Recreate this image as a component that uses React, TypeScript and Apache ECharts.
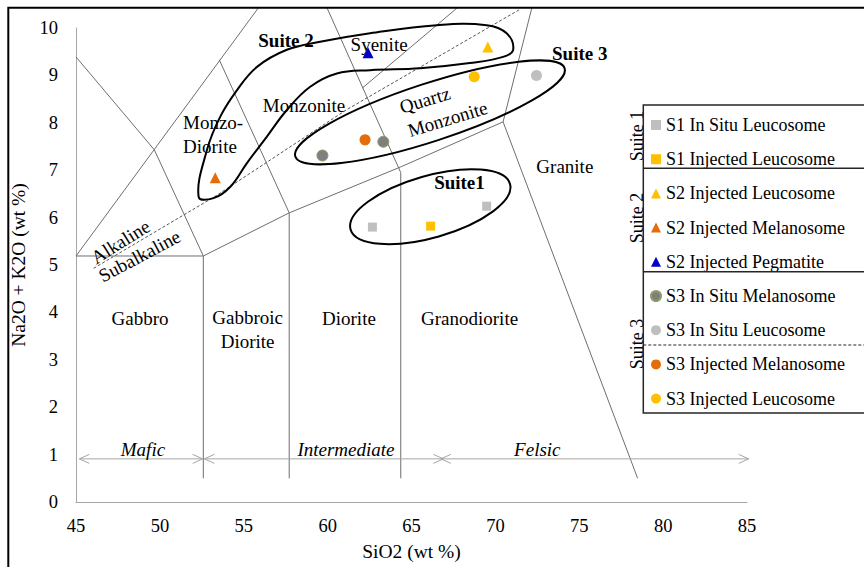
import React, { useEffect, useRef } from 'react';
import * as echarts from 'echarts';

const FONT = '"Liberation Serif", "Times New Roman", serif';

// ---- sample data (SiO2, Na2O+K2O) ----
const s1InSituLeucosome = [[62.67, 5.80], [69.48, 6.24]];
const s1InjectedLeucosome = [[66.14, 5.82]];
const s2InjectedLeucosome = [[69.55, 9.60]];
const s2InjectedMelanosome = [[53.30, 6.84]];
const s2InjectedPegmatite = [[62.41, 9.48]];
const s3InSituMelanosome = [[59.69, 7.31], [63.32, 7.60]];
const s3InSituLeucosome = [[72.45, 9.00]];
const s3InjectedMelanosome = [[62.23, 7.64]];
const s3InjectedLeucosome = [[68.74, 8.97]];

// ---- TAS field boundaries (data coordinates) ----
const fieldBoundaries = [
  [[45, 9.39], [49.67, 7.43], [52.59, 5.19]],
  [[45, 5.19], [55.86, 10.42]],
  [[53.54, 9.33], [57.71, 6.10], [57.71, 0.5]],
  [[45, 5.19], [52.59, 5.19], [52.59, 0.5]],
  [[52.59, 5.19], [57.71, 6.10], [64.36, 7.07], [70.46, 8.02]],
  [[59.97, 10.42], [64.36, 6.95], [64.36, 0.5]],
  [[67.71, 10.42], [62.06, 8.73]],
  [[72.17, 10.42], [70.46, 8.02], [78.48, 0.5]],
];
const alkalineDivide = [[46.05, 4.93], [53.3, 6.45], [61.1, 8.27], [71.4, 10.38]];

// ---- rock class ranges (arrows): from, to, level ----
const classRanges = [
  [45.2, 52.55, 0.91],
  [52.65, 66.9, 0.91],
  [66.75, 85.1, 0.91],
];

// ---- suite outlines ----
const suiteEllipses = [
  // centre x, centre y, major-axis end x, end y, minor/major ratio
  [66.10, 8.22, 74.13, 9.15, 0.204],
  [66.12, 6.23, 70.87, 6.71, 0.373],
];
const suite2Loop = [
  [52.31, 6.44], [52.81, 7.43], [53.60, 8.13], [54.60, 8.69], [55.79, 9.18],
  [57.57, 9.54], [59.55, 9.71], [62.53, 9.89], [66.50, 10.06], [69.48, 10.06],
  [70.67, 9.89], [71.06, 9.54], [70.46, 9.39], [68.48, 9.26], [65.51, 9.15],
  [62.53, 9.11], [60.55, 9.04], [58.96, 8.76], [57.57, 8.27], [56.38, 7.71],
  [55.19, 7.15], [54.20, 6.65], [53.20, 6.41],
];

// ---- text labels ----
const fieldLabels = [
  { text: 'Gabbro', at: [48.82, 3.88] },
  { text: 'Gabbroic\nDiorite', at: [55.23, 3.63] },
  { text: 'Diorite', at: [61.27, 3.88] },
  { text: 'Granodiorite', at: [68.46, 3.88] },
  { text: 'Granite', at: [74.14, 7.07] },
  { text: 'Monzo-\nDiorite', at: [51.38, 7.75], align: 'left' },
  { text: 'Monzonite', at: [58.59, 8.375] },
  { text: 'Syenite', at: [63.07, 9.66] },
  { text: 'Quartz', at: [65.80, 8.48], rotate: 17 },
  { text: 'Monzonite', at: [67.15, 8.08], rotate: 17 },
  { text: 'Alkaline', at: [47.65, 5.49], rotate: 32 },
  { text: 'Subalkaline', at: [48.78, 5.19], rotate: 28 },
  { text: 'Suite 2', at: [57.52, 9.74], bold: true },
  { text: 'Suite 3', at: [75.03, 9.47], bold: true },
  { text: 'Suite1', at: [67.86, 6.75], bold: true },
  { text: 'Mafic', at: [48.99, 1.10], italic: true },
  { text: 'Intermediate', at: [61.09, 1.10], italic: true },
  { text: 'Felsic', at: [72.5, 1.10], italic: true },
];

const sampleSeries = [
  { name: 'S1 In Situ Leucosome', data: s1InSituLeucosome, symbol: 'rect', size: 9, color: '#BFBFBF' },
  { name: 'S1 Injected Leucosome', data: s1InjectedLeucosome, symbol: 'rect', size: 9, color: '#FFC000' },
  { name: 'S2 Injected Leucosome', data: s2InjectedLeucosome, symbol: 'triangle', size: 11, color: '#FFC000' },
  { name: 'S2 Injected Melanosome', data: s2InjectedMelanosome, symbol: 'triangle', size: 11, color: '#E46C0A' },
  { name: 'S2 Injected Pegmatite', data: s2InjectedPegmatite, symbol: 'triangle', size: 11, color: '#0000C8' },
  { name: 'S3 In Situ Melanosome', data: s3InSituMelanosome, symbol: 'circle', size: 11, color: '#7F7F7F', border: '#8E9C6C' },
  { name: 'S3 In Situ Leucosome', data: s3InSituLeucosome, symbol: 'circle', size: 11, color: '#BFBFBF' },
  { name: 'S3 Injected Melanosome', data: s3InjectedMelanosome, symbol: 'circle', size: 11, color: '#E46C0A' },
  { name: 'S3 Injected Leucosome', data: s3InjectedLeucosome, symbol: 'circle', size: 11, color: '#FFC000' },
];

export default function App() {
  const ref = useRef<HTMLDivElement>(null);

  useEffect(() => {
    document.body.style.margin = '0';
    const chart = echarts.init(ref.current!, null, { renderer: 'svg' });

    const boundarySeries = fieldBoundaries.map((pts) => ({
      type: 'line',
      data: pts,
      symbol: 'none',
      showSymbol: false,
      clip: false,
      silent: true,
      z: 2,
      lineStyle: { color: '#6E6E6E', width: 1 },
    }));

    const option: any = {
      animation: false,
      grid: { left: 76, top: 28, right: 117, bottom: 65 },
      xAxis: {
        type: 'value',
        min: 45,
        max: 85,
        interval: 5,
        name: 'SiO2 (wt %)',
        nameLocation: 'middle',
        nameGap: 39,
        nameTextStyle: { fontFamily: FONT, fontSize: 19.5, color: '#000' },
        axisLine: { show: true, onZero: false, lineStyle: { color: '#A6A6A6', width: 1 } },
        axisTick: { show: false },
        splitLine: { show: false },
        axisLabel: { fontFamily: FONT, fontSize: 18.5, color: '#000', margin: 14 },
      },
      yAxis: {
        type: 'value',
        min: 0,
        max: 10,
        interval: 1,
        name: 'Na2O + K2O (wt %)',
        nameLocation: 'middle',
        nameGap: 38,
        nameTextStyle: { fontFamily: FONT, fontSize: 19.5, color: '#000' },
        axisLine: { show: true, onZero: false, lineStyle: { color: '#A6A6A6', width: 1 } },
        axisTick: { show: false },
        splitLine: { show: false },
        axisLabel: { fontFamily: FONT, fontSize: 18.5, color: '#000', margin: 18 },
      },
      legend: {
        data: sampleSeries.map((s) => s.name),
        orient: 'vertical',
        left: 650,
        top: 115,
        padding: 0,
        itemWidth: 10,
        itemHeight: 10,
        itemGap: 14.2,
        selectedMode: false,
        textStyle: { fontFamily: FONT, fontSize: 18, color: '#000', lineHeight: 20 },
      },
      graphic: [
        { type: 'rect', shape: { x: 8.3, y: 7.8, width: 900, height: 600 }, style: { fill: 'none', stroke: '#000', lineWidth: 2 }, z: 100 },
        { type: 'text', x: 637, y: 136, rotation: Math.PI / 2, style: { text: 'Suite 1', font: '18px ' + FONT, fill: '#000', align: 'center', verticalAlign: 'middle' }, z: 50 },
        { type: 'text', x: 637, y: 218, rotation: Math.PI / 2, style: { text: 'Suite 2', font: '18px ' + FONT, fill: '#000', align: 'center', verticalAlign: 'middle' }, z: 50 },
        { type: 'text', x: 637, y: 344, rotation: Math.PI / 2, style: { text: 'Suite 3', font: '18px ' + FONT, fill: '#000', align: 'center', verticalAlign: 'middle' }, z: 50 },
        { type: 'rect', shape: { x: 643.3, y: 105, width: 240, height: 308 }, style: { fill: 'none', stroke: '#262626', lineWidth: 1.5 }, z: 60 },
        { type: 'line', shape: { x1: 643.3, y1: 168.3, x2: 864, y2: 168.3 }, style: { stroke: '#262626', lineWidth: 1.5 }, z: 60 },
        { type: 'line', shape: { x1: 643.3, y1: 271.7, x2: 864, y2: 271.7 }, style: { stroke: '#262626', lineWidth: 1.5 }, z: 60 },
        { type: 'line', shape: { x1: 643.3, y1: 345, x2: 864, y2: 345 }, style: { stroke: '#262626', lineWidth: 1, lineDash: [3, 2] }, z: 60 },
      ],
      series: [
        ...boundarySeries,
        {
          type: 'line',
          data: alkalineDivide,
          symbol: 'none',
          showSymbol: false,
          clip: false,
          silent: true,
          z: 2,
          lineStyle: { color: '#555', width: 1, type: [3, 2] },
        },
        {
          type: 'custom',
          silent: true,
          z: 3,
          data: classRanges,
          renderItem: (params: any, api: any) => {
            const p1 = api.coord([api.value(0), api.value(2)]);
            const p2 = api.coord([api.value(1), api.value(2)]);
            const st = { stroke: '#A6A6A6', lineWidth: 1, fill: 'none' };
            return {
              type: 'group',
              children: [
                { type: 'line', shape: { x1: p1[0], y1: p1[1], x2: p2[0], y2: p2[1] }, style: st },
                { type: 'polyline', shape: { points: [[p1[0] + 10, p1[1] - 4.5], [p1[0], p1[1]], [p1[0] + 10, p1[1] + 4.5]] }, style: st },
                { type: 'polyline', shape: { points: [[p2[0] - 10, p2[1] - 4.5], [p2[0], p2[1]], [p2[0] - 10, p2[1] + 4.5]] }, style: st },
              ],
            };
          },
        },
        {
          type: 'custom',
          silent: true,
          z: 4,
          data: suiteEllipses,
          renderItem: (params: any, api: any) => {
            const c = api.coord([api.value(0), api.value(1)]);
            const e = api.coord([api.value(2), api.value(3)]);
            const a = Math.hypot(e[0] - c[0], e[1] - c[1]);
            const rot = Math.atan2(c[1] - e[1], e[0] - c[0]);
            return {
              type: 'ellipse',
              x: c[0],
              y: c[1],
              rotation: rot,
              shape: { cx: 0, cy: 0, rx: a, ry: a * api.value(4) },
              style: { fill: 'none', stroke: '#000', lineWidth: 2 },
            };
          },
        },
        {
          type: 'custom',
          silent: true,
          z: 4,
          data: [suite2Loop[0]],
          renderItem: (params: any, api: any) => {
            const pts = suite2Loop.map((p) => api.coord(p));
            return {
              type: 'polygon',
              shape: { points: pts, smooth: 0.4 },
              style: { fill: 'none', stroke: '#000', lineWidth: 2 },
            };
          },
        },
        {
          type: 'custom',
          silent: true,
          z: 5,
          data: fieldLabels.map((l, i) => [l.at[0], l.at[1], i]),
          renderItem: (params: any, api: any) => {
            const l: any = fieldLabels[api.value(2)];
            const p = api.coord([api.value(0), api.value(1)]);
            const weight = l.bold ? 'bold ' : '';
            const style = l.italic ? 'italic ' : '';
            return {
              type: 'text',
              x: p[0],
              y: p[1],
              rotation: ((l.rotate || 0) * Math.PI) / 180,
              style: {
                text: l.text,
                font: style + weight + '19px ' + FONT,
                fill: '#000',
                align: l.align || 'center',
                verticalAlign: 'middle',
                lineHeight: 24,
              },
            };
          },
        },
        ...sampleSeries.map((s) => ({
          type: 'scatter',
          name: s.name,
          data: s.data,
          symbol: s.symbol,
          symbolSize: s.size,
          z: 10,
          itemStyle: { color: s.color, borderColor: s.border || s.color, borderWidth: s.border ? 1 : 0, opacity: 1 },
        })),
      ],
    };

    chart.setOption(option);
    return () => chart.dispose();
  }, []);

  return <div ref={ref} style={{ width: 864, height: 567 }} />;
}
